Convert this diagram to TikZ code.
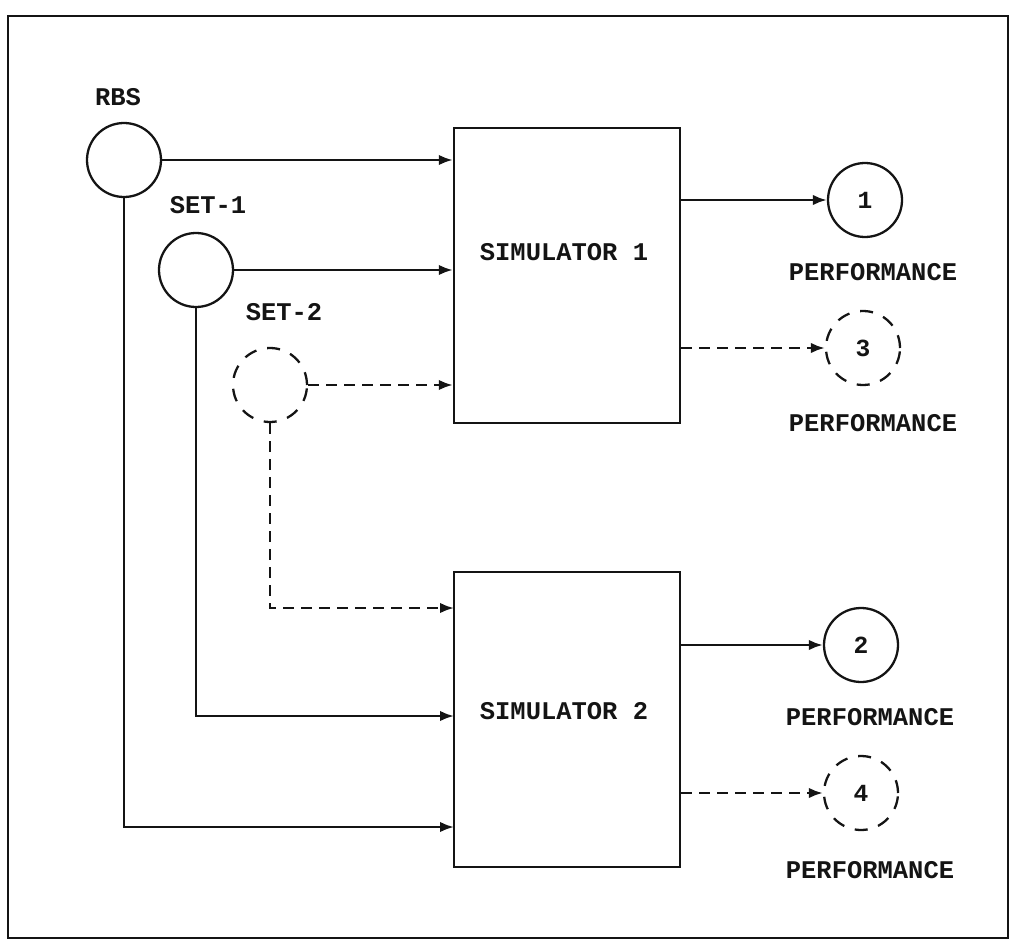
\documentclass[tikz,border=0pt]{standalone}
\usepackage{fontspec}
\setmonofont{Liberation Mono}
\usetikzlibrary{arrows.meta,positioning,calc}
\definecolor{inkdark}{HTML}{141414}
\tikzset{
  >={Latex[length=2.8mm,width=2.1mm]},
  flow/.style={->, draw=inkdark, line width=1.4pt},
  dflow/.style={flow, dash pattern=on 2.2mm off 1.4mm},
  src/.style={circle, draw=inkdark, line width=1.3pt, minimum size=14.8mm,
              inner sep=0pt, text=inkdark, font=\ttfamily\bfseries\fontsize{14}{14}\selectfont},
  ghost/.style={src, dash pattern=on 2.6mm off 2.2mm},
  simbox/.style={rectangle, draw=inkdark, line width=1.4pt,
                 minimum width=45.2mm, minimum height=59mm},
  tag/.style={font=\ttfamily\bfseries\fontsize{14.5}{14.5}\selectfont, text=inkdark, inner sep=0pt}
}

\begin{document}
\begin{tikzpicture}[x=0.2mm, y=-0.2mm]
\useasboundingbox (0,0) rectangle (1012,944);

% outer frame
\draw[draw=inkdark, line width=1.1pt] (8,16) rectangle (1008,938);

% ------------------------------------------------------------
% LEFT: input sets
% ------------------------------------------------------------
\node[src] (rbs) at (124,160) {};
\node[tag] (rbslbl) at (118,97) {RBS};
\node[src] (set1) at (196,270) {};
\node[tag] (set1lbl) at (208,205) {SET-1};
\node[ghost] (set2) at (270,385) {};
\node[tag] (set2lbl) at (284,312) {SET-2};

% ------------------------------------------------------------
% CENTER: simulators
% ------------------------------------------------------------
\node[simbox] (sim1) at (567,275.5) {};
\node[tag] (sim1lbl) at (564,252) {SIMULATOR 1};
\node[simbox] (sim2) at (567,719.5) {};
\node[tag] (sim2lbl) at (564,711) {SIMULATOR 2};

% entry points on simulator 2
\coordinate (s2a) at (454,608);
\coordinate (s2b) at (454,716);
\coordinate (s2c) at (454,827);

% inputs to simulator 1
\draw[flow] (rbs.east) -- (rbs.east -| sim1.west);
\draw[flow] (set1.east) -- (set1.east -| sim1.west);
\draw[dflow] (set2.east) -- (set2.east -| sim1.west);

% inputs to simulator 2
\draw[dflow] (set2.south) |- (s2a);
\draw[flow] (set1.south) |- (s2b);
\draw[flow] (rbs.south) |- (s2c);

% ------------------------------------------------------------
% RIGHT: performance outputs
% ------------------------------------------------------------
\node[src] (out1) at (865,200) {1};
\node[tag] (perf1) at (873,272) {PERFORMANCE};
\node[ghost] (out3) at (863,348) {3};
\node[tag] (perf3) at (873,423) {PERFORMANCE};
\node[src] (out2) at (861,645) {2};
\node[tag] (perf2) at (870,717) {PERFORMANCE};
\node[ghost] (out4) at (861,793) {4};
\node[tag] (perf4) at (870,870) {PERFORMANCE};

\draw[flow] (sim1.east |- out1.west) -- (out1.west);
\draw[dflow] (sim1.east |- out3.west) -- (out3.west);
\draw[flow] (sim2.east |- out2.west) -- (out2.west);
\draw[dflow] (sim2.east |- out4.west) -- (out4.west);

\end{tikzpicture}
\end{document}
